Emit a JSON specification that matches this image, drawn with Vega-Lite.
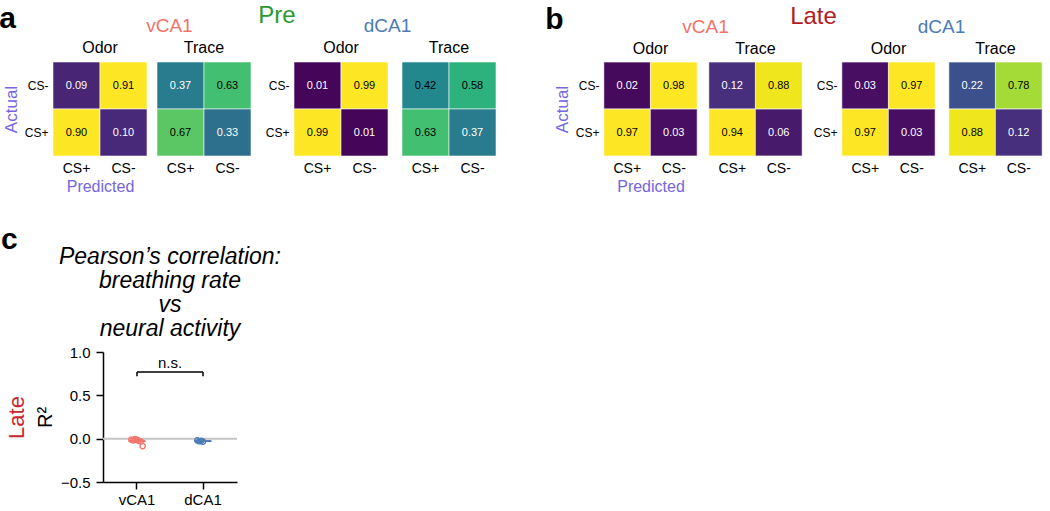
{
  "$schema": "https://vega.github.io/schema/vega-lite/v6.json",
  "background": "white",
  "padding": {"left": -1, "top": 4, "right": 0, "bottom": 0},
  "config": {
    "font": "Liberation Sans",
    "view": {"stroke": null},
    "title": {"fontWeight": "normal", "color": "black", "baseline": "alphabetic"},
    "axis": {"grid": false, "labelColor": "black", "titleColor": "black", "titleFontWeight": "normal"}
  },
  "datasets": {
    "heat": [
      {"phase": "Pre", "region": "vCA1", "epoch": "Odor", "actual": "CS-", "predicted": "CS+", "value": 0.09},
      {"phase": "Pre", "region": "vCA1", "epoch": "Odor", "actual": "CS-", "predicted": "CS-", "value": 0.91},
      {"phase": "Pre", "region": "vCA1", "epoch": "Odor", "actual": "CS+", "predicted": "CS+", "value": 0.90},
      {"phase": "Pre", "region": "vCA1", "epoch": "Odor", "actual": "CS+", "predicted": "CS-", "value": 0.10},
      {"phase": "Pre", "region": "vCA1", "epoch": "Trace", "actual": "CS-", "predicted": "CS+", "value": 0.37},
      {"phase": "Pre", "region": "vCA1", "epoch": "Trace", "actual": "CS-", "predicted": "CS-", "value": 0.63},
      {"phase": "Pre", "region": "vCA1", "epoch": "Trace", "actual": "CS+", "predicted": "CS+", "value": 0.67},
      {"phase": "Pre", "region": "vCA1", "epoch": "Trace", "actual": "CS+", "predicted": "CS-", "value": 0.33},
      {"phase": "Pre", "region": "dCA1", "epoch": "Odor", "actual": "CS-", "predicted": "CS+", "value": 0.01},
      {"phase": "Pre", "region": "dCA1", "epoch": "Odor", "actual": "CS-", "predicted": "CS-", "value": 0.99},
      {"phase": "Pre", "region": "dCA1", "epoch": "Odor", "actual": "CS+", "predicted": "CS+", "value": 0.99},
      {"phase": "Pre", "region": "dCA1", "epoch": "Odor", "actual": "CS+", "predicted": "CS-", "value": 0.01},
      {"phase": "Pre", "region": "dCA1", "epoch": "Trace", "actual": "CS-", "predicted": "CS+", "value": 0.42},
      {"phase": "Pre", "region": "dCA1", "epoch": "Trace", "actual": "CS-", "predicted": "CS-", "value": 0.58},
      {"phase": "Pre", "region": "dCA1", "epoch": "Trace", "actual": "CS+", "predicted": "CS+", "value": 0.63},
      {"phase": "Pre", "region": "dCA1", "epoch": "Trace", "actual": "CS+", "predicted": "CS-", "value": 0.37},
      {"phase": "Late", "region": "vCA1", "epoch": "Odor", "actual": "CS-", "predicted": "CS+", "value": 0.02},
      {"phase": "Late", "region": "vCA1", "epoch": "Odor", "actual": "CS-", "predicted": "CS-", "value": 0.98},
      {"phase": "Late", "region": "vCA1", "epoch": "Odor", "actual": "CS+", "predicted": "CS+", "value": 0.97},
      {"phase": "Late", "region": "vCA1", "epoch": "Odor", "actual": "CS+", "predicted": "CS-", "value": 0.03},
      {"phase": "Late", "region": "vCA1", "epoch": "Trace", "actual": "CS-", "predicted": "CS+", "value": 0.12},
      {"phase": "Late", "region": "vCA1", "epoch": "Trace", "actual": "CS-", "predicted": "CS-", "value": 0.88},
      {"phase": "Late", "region": "vCA1", "epoch": "Trace", "actual": "CS+", "predicted": "CS+", "value": 0.94},
      {"phase": "Late", "region": "vCA1", "epoch": "Trace", "actual": "CS+", "predicted": "CS-", "value": 0.06},
      {"phase": "Late", "region": "dCA1", "epoch": "Odor", "actual": "CS-", "predicted": "CS+", "value": 0.03},
      {"phase": "Late", "region": "dCA1", "epoch": "Odor", "actual": "CS-", "predicted": "CS-", "value": 0.97},
      {"phase": "Late", "region": "dCA1", "epoch": "Odor", "actual": "CS+", "predicted": "CS+", "value": 0.97},
      {"phase": "Late", "region": "dCA1", "epoch": "Odor", "actual": "CS+", "predicted": "CS-", "value": 0.03},
      {"phase": "Late", "region": "dCA1", "epoch": "Trace", "actual": "CS-", "predicted": "CS+", "value": 0.22},
      {"phase": "Late", "region": "dCA1", "epoch": "Trace", "actual": "CS-", "predicted": "CS-", "value": 0.78},
      {"phase": "Late", "region": "dCA1", "epoch": "Trace", "actual": "CS+", "predicted": "CS+", "value": 0.88},
      {"phase": "Late", "region": "dCA1", "epoch": "Trace", "actual": "CS+", "predicted": "CS-", "value": 0.12}
    ],
    "corr": [
      {"region": "vCA1", "mouse": "m1", "r2": -0.01},
      {"region": "vCA1", "mouse": "m2", "r2": -0.02},
      {"region": "vCA1", "mouse": "m3", "r2": -0.005},
      {"region": "vCA1", "mouse": "m4", "r2": -0.015},
      {"region": "vCA1", "mouse": "m5", "r2": -0.025},
      {"region": "vCA1", "mouse": "m6", "r2": -0.03},
      {"region": "vCA1", "mouse": "m7", "r2": -0.085},
      {"region": "dCA1", "mouse": "m1", "r2": -0.02},
      {"region": "dCA1", "mouse": "m2", "r2": -0.03},
      {"region": "dCA1", "mouse": "m3", "r2": -0.025},
      {"region": "dCA1", "mouse": "m4", "r2": -0.035}
    ]
  },
  "spacing": 31,
  "vconcat": [
    {
      "spacing": 47,
      "hconcat": [
        {
          "title": {"text": "a", "anchor": "start", "fontSize": 30, "fontWeight": "bold", "offset": -30, "dx": -3},
          "hconcat": [
            {
              "title": {"text": "Pre", "anchor": "middle", "fontSize": 24, "color": "#2A9A33", "offset": -11, "dx": 27},
              "spacing": 12,
              "hconcat": [
                {
                  "title": {"text": "vCA1", "anchor": "middle", "fontSize": 19, "color": "#F4736B", "offset": 4, "dx": 42},
                  "spacing": 6,
                  "hconcat": [
                    {
                      "width": 94, "height": 94,
                      "title": {"text": "Odor", "fontSize": 16, "offset": 4, "anchor": "middle"},
                      "data": {"name": "heat"},
                      "transform": [{"filter": "datum.phase === 'Pre' && datum.region === 'vCA1' && datum.epoch === 'Odor'"}],
                      "encoding": {
                        "x": {"field": "predicted", "type": "nominal", "sort": ["CS+", "CS-"], "title": "Predicted", "scale": {"type": "band", "paddingInner": 0, "paddingOuter": 0}, "axis": {"labelAngle": 0, "labelFontSize": 14, "labelPadding": 5, "domain": false, "ticks": false, "titleFontSize": 16, "titleColor": "#7565E0", "titlePadding": 3}},
                        "y": {"field": "actual", "type": "nominal", "sort": ["CS-", "CS+"], "title": "Actual", "scale": {"type": "band", "paddingInner": 0, "paddingOuter": 0}, "axis": {"labelFontSize": 12, "labelPadding": 5, "domain": false, "ticks": false, "titleFontSize": 17, "titleColor": "#7565E0", "titlePadding": 4}}
                      },
                      "layer": [
                        {"mark": {"type": "square", "size": 2209, "opacity": 1, "stroke": "#ffffff", "strokeWidth": 0.8, "strokeOpacity": 0.7}, "encoding": {"color": {"field": "value", "type": "quantitative", "scale": {"scheme": "viridis", "domain": [0, 0.9], "clamp": true}, "legend": null}}},
                        {"mark": {"type": "text", "fontSize": 11}, "encoding": {"text": {"field": "value", "type": "quantitative", "format": ".2f"}, "color": {"condition": {"test": "datum.value < 0.4", "value": "white"}, "value": "black"}}}
                      ]
                    },
                    {
                      "width": 94, "height": 94,
                      "title": {"text": "Trace", "fontSize": 16, "offset": 4, "anchor": "middle"},
                      "data": {"name": "heat"},
                      "transform": [{"filter": "datum.phase === 'Pre' && datum.region === 'vCA1' && datum.epoch === 'Trace'"}],
                      "encoding": {
                        "x": {"field": "predicted", "type": "nominal", "sort": ["CS+", "CS-"], "title": null, "scale": {"type": "band", "paddingInner": 0, "paddingOuter": 0}, "axis": {"labelAngle": 0, "labelFontSize": 14, "labelPadding": 5, "domain": false, "ticks": false}},
                        "y": {"field": "actual", "type": "nominal", "sort": ["CS-", "CS+"], "scale": {"type": "band", "paddingInner": 0, "paddingOuter": 0}, "axis": null}
                      },
                      "layer": [
                        {"mark": {"type": "square", "size": 2209, "opacity": 1, "stroke": "#ffffff", "strokeWidth": 0.8, "strokeOpacity": 0.7}, "encoding": {"color": {"field": "value", "type": "quantitative", "scale": {"scheme": "viridis", "domain": [0, 0.9], "clamp": true}, "legend": null}}},
                        {"mark": {"type": "text", "fontSize": 11}, "encoding": {"text": {"field": "value", "type": "quantitative", "format": ".2f"}, "color": {"condition": {"test": "datum.value < 0.4", "value": "white"}, "value": "black"}}}
                      ]
                    }
                  ]
                },
                {
                  "title": {"text": "dCA1", "anchor": "middle", "fontSize": 19, "color": "#4C7BB5", "offset": 4, "dx": 6},
                  "spacing": 10,
                  "hconcat": [
                    {
                      "width": 94, "height": 94,
                      "title": {"text": "Odor", "fontSize": 16, "offset": 4, "anchor": "middle"},
                      "data": {"name": "heat"},
                      "transform": [{"filter": "datum.phase === 'Pre' && datum.region === 'dCA1' && datum.epoch === 'Odor'"}],
                      "encoding": {
                        "x": {"field": "predicted", "type": "nominal", "sort": ["CS+", "CS-"], "title": null, "scale": {"type": "band", "paddingInner": 0, "paddingOuter": 0}, "axis": {"labelAngle": 0, "labelFontSize": 14, "labelPadding": 5, "domain": false, "ticks": false}},
                        "y": {"field": "actual", "type": "nominal", "sort": ["CS-", "CS+"], "title": null, "scale": {"type": "band", "paddingInner": 0, "paddingOuter": 0}, "axis": {"labelFontSize": 12, "labelPadding": 5, "domain": false, "ticks": false}}
                      },
                      "layer": [
                        {"mark": {"type": "square", "size": 2209, "opacity": 1, "stroke": "#ffffff", "strokeWidth": 0.8, "strokeOpacity": 0.7}, "encoding": {"color": {"field": "value", "type": "quantitative", "scale": {"scheme": "viridis", "domain": [0, 0.9], "clamp": true}, "legend": null}}},
                        {"mark": {"type": "text", "fontSize": 11}, "encoding": {"text": {"field": "value", "type": "quantitative", "format": ".2f"}, "color": {"condition": {"test": "datum.value < 0.4", "value": "white"}, "value": "black"}}}
                      ]
                    },
                    {
                      "width": 94, "height": 94,
                      "title": {"text": "Trace", "fontSize": 16, "offset": 4, "anchor": "middle"},
                      "data": {"name": "heat"},
                      "transform": [{"filter": "datum.phase === 'Pre' && datum.region === 'dCA1' && datum.epoch === 'Trace'"}],
                      "encoding": {
                        "x": {"field": "predicted", "type": "nominal", "sort": ["CS+", "CS-"], "title": null, "scale": {"type": "band", "paddingInner": 0, "paddingOuter": 0}, "axis": {"labelAngle": 0, "labelFontSize": 14, "labelPadding": 5, "domain": false, "ticks": false}},
                        "y": {"field": "actual", "type": "nominal", "sort": ["CS-", "CS+"], "scale": {"type": "band", "paddingInner": 0, "paddingOuter": 0}, "axis": null}
                      },
                      "layer": [
                        {"mark": {"type": "square", "size": 2209, "opacity": 1, "stroke": "#ffffff", "strokeWidth": 0.8, "strokeOpacity": 0.7}, "encoding": {"color": {"field": "value", "type": "quantitative", "scale": {"scheme": "viridis", "domain": [0, 0.9], "clamp": true}, "legend": null}}},
                        {"mark": {"type": "text", "fontSize": 11}, "encoding": {"text": {"field": "value", "type": "quantitative", "format": ".2f"}, "color": {"condition": {"test": "datum.value < 0.4", "value": "white"}, "value": "black"}}}
                      ]
                    }
                  ]
                }
              ]
            }
          ]
        },
        {
          "title": {"text": "b", "anchor": "start", "fontSize": 30, "fontWeight": "bold", "offset": -30, "dx": -8},
          "hconcat": [
            {
              "title": {"text": "Late", "anchor": "middle", "fontSize": 24, "color": "#B31B25", "offset": -11, "dx": 15},
              "spacing": 9,
              "hconcat": [
                {
                  "title": {"text": "vCA1", "anchor": "middle", "fontSize": 19, "color": "#F4736B", "offset": 4, "dx": 27},
                  "spacing": 8,
                  "hconcat": [
                    {
                      "width": 93, "height": 94,
                      "title": {"text": "Odor", "fontSize": 16, "offset": 4, "anchor": "middle"},
                      "data": {"name": "heat"},
                      "transform": [{"filter": "datum.phase === 'Late' && datum.region === 'vCA1' && datum.epoch === 'Odor'"}],
                      "encoding": {
                        "x": {"field": "predicted", "type": "nominal", "sort": ["CS+", "CS-"], "title": "Predicted", "scale": {"type": "band", "paddingInner": 0, "paddingOuter": 0}, "axis": {"labelAngle": 0, "labelFontSize": 14, "labelPadding": 5, "domain": false, "ticks": false, "titleFontSize": 16, "titleColor": "#7565E0", "titlePadding": 3}},
                        "y": {"field": "actual", "type": "nominal", "sort": ["CS-", "CS+"], "title": "Actual", "scale": {"type": "band", "paddingInner": 0, "paddingOuter": 0}, "axis": {"labelFontSize": 12, "labelPadding": 5, "domain": false, "ticks": false, "titleFontSize": 17, "titleColor": "#7565E0", "titlePadding": 4}}
                      },
                      "layer": [
                        {"mark": {"type": "square", "size": 2186, "opacity": 1, "stroke": "#ffffff", "strokeWidth": 0.8, "strokeOpacity": 0.7}, "encoding": {"color": {"field": "value", "type": "quantitative", "scale": {"scheme": "viridis", "domain": [0, 0.9], "clamp": true}, "legend": null}}},
                        {"mark": {"type": "text", "fontSize": 11}, "encoding": {"text": {"field": "value", "type": "quantitative", "format": ".2f"}, "color": {"condition": {"test": "datum.value < 0.4", "value": "white"}, "value": "black"}}}
                      ]
                    },
                    {
                      "width": 93, "height": 94,
                      "title": {"text": "Trace", "fontSize": 16, "offset": 4, "anchor": "middle"},
                      "data": {"name": "heat"},
                      "transform": [{"filter": "datum.phase === 'Late' && datum.region === 'vCA1' && datum.epoch === 'Trace'"}],
                      "encoding": {
                        "x": {"field": "predicted", "type": "nominal", "sort": ["CS+", "CS-"], "title": null, "scale": {"type": "band", "paddingInner": 0, "paddingOuter": 0}, "axis": {"labelAngle": 0, "labelFontSize": 14, "labelPadding": 5, "domain": false, "ticks": false}},
                        "y": {"field": "actual", "type": "nominal", "sort": ["CS-", "CS+"], "scale": {"type": "band", "paddingInner": 0, "paddingOuter": 0}, "axis": null}
                      },
                      "layer": [
                        {"mark": {"type": "square", "size": 2186, "opacity": 1, "stroke": "#ffffff", "strokeWidth": 0.8, "strokeOpacity": 0.7}, "encoding": {"color": {"field": "value", "type": "quantitative", "scale": {"scheme": "viridis", "domain": [0, 0.9], "clamp": true}, "legend": null}}},
                        {"mark": {"type": "text", "fontSize": 11}, "encoding": {"text": {"field": "value", "type": "quantitative", "format": ".2f"}, "color": {"condition": {"test": "datum.value < 0.4", "value": "white"}, "value": "black"}}}
                      ]
                    }
                  ]
                },
                {
                  "title": {"text": "dCA1", "anchor": "middle", "fontSize": 19, "color": "#4C7BB5", "offset": 4, "dx": 13},
                  "spacing": 10,
                  "hconcat": [
                    {
                      "width": 93, "height": 94,
                      "title": {"text": "Odor", "fontSize": 16, "offset": 4, "anchor": "middle"},
                      "data": {"name": "heat"},
                      "transform": [{"filter": "datum.phase === 'Late' && datum.region === 'dCA1' && datum.epoch === 'Odor'"}],
                      "encoding": {
                        "x": {"field": "predicted", "type": "nominal", "sort": ["CS+", "CS-"], "title": null, "scale": {"type": "band", "paddingInner": 0, "paddingOuter": 0}, "axis": {"labelAngle": 0, "labelFontSize": 14, "labelPadding": 5, "domain": false, "ticks": false}},
                        "y": {"field": "actual", "type": "nominal", "sort": ["CS-", "CS+"], "title": null, "scale": {"type": "band", "paddingInner": 0, "paddingOuter": 0}, "axis": {"labelFontSize": 12, "labelPadding": 5, "domain": false, "ticks": false}}
                      },
                      "layer": [
                        {"mark": {"type": "square", "size": 2186, "opacity": 1, "stroke": "#ffffff", "strokeWidth": 0.8, "strokeOpacity": 0.7}, "encoding": {"color": {"field": "value", "type": "quantitative", "scale": {"scheme": "viridis", "domain": [0, 0.9], "clamp": true}, "legend": null}}},
                        {"mark": {"type": "text", "fontSize": 11}, "encoding": {"text": {"field": "value", "type": "quantitative", "format": ".2f"}, "color": {"condition": {"test": "datum.value < 0.4", "value": "white"}, "value": "black"}}}
                      ]
                    },
                    {
                      "width": 93, "height": 94,
                      "title": {"text": "Trace", "fontSize": 16, "offset": 4, "anchor": "middle"},
                      "data": {"name": "heat"},
                      "transform": [{"filter": "datum.phase === 'Late' && datum.region === 'dCA1' && datum.epoch === 'Trace'"}],
                      "encoding": {
                        "x": {"field": "predicted", "type": "nominal", "sort": ["CS+", "CS-"], "title": null, "scale": {"type": "band", "paddingInner": 0, "paddingOuter": 0}, "axis": {"labelAngle": 0, "labelFontSize": 14, "labelPadding": 5, "domain": false, "ticks": false}},
                        "y": {"field": "actual", "type": "nominal", "sort": ["CS-", "CS+"], "scale": {"type": "band", "paddingInner": 0, "paddingOuter": 0}, "axis": null}
                      },
                      "layer": [
                        {"mark": {"type": "square", "size": 2186, "opacity": 1, "stroke": "#ffffff", "strokeWidth": 0.8, "strokeOpacity": 0.7}, "encoding": {"color": {"field": "value", "type": "quantitative", "scale": {"scheme": "viridis", "domain": [0, 0.9], "clamp": true}, "legend": null}}},
                        {"mark": {"type": "text", "fontSize": 11}, "encoding": {"text": {"field": "value", "type": "quantitative", "format": ".2f"}, "color": {"condition": {"test": "datum.value < 0.4", "value": "white"}, "value": "black"}}}
                      ]
                    }
                  ]
                }
              ]
            }
          ]
        }
      ]
    },
    {
      "bounds": "flush",
      "spacing": 10,
      "hconcat": [
        {
          "width": 40, "height": 1,
          "data": {"values": [{"blank": 0}]},
          "mark": {"type": "point", "opacity": 0}
        },
        {
          "title": {"text": "c", "anchor": "start", "fontSize": 30, "fontWeight": "bold", "offset": -9, "dx": -4},
          "hconcat": [
            {
              "width": 134, "height": 130,
              "title": {"text": ["Pearson’s correlation:", "breathing rate", "vs", "neural activity"], "fontStyle": "italic", "fontSize": 23, "lineHeight": 24, "anchor": "middle", "frame": "group", "baseline": "bottom", "offset": -19},
              "resolve": {"scale": {"y": "independent"}},
              "layer": [
                {
                  "layer": [
                    {
                      "data": {"values": [{"level": 0}]},
                      "mark": {"type": "rule", "color": "#c6c6c6", "strokeWidth": 2},
                      "encoding": {"y": {"field": "level", "type": "quantitative", "scale": {"domain": [-0.5, 1], "nice": false, "zero": false}}}
                    },
                    {
                      "data": {"name": "corr"},
                      "mark": {"type": "point", "shape": "circle", "filled": false, "size": 28, "strokeWidth": 1.4, "opacity": 1},
                      "encoding": {
                        "x": {"field": "region", "type": "nominal", "scale": {"domain": ["vCA1", "dCA1"], "paddingInner": 0.8, "paddingOuter": 0.415}, "axis": {"title": null, "labelAngle": 0, "labelFontSize": 15, "labelPadding": 3, "tickSize": 7, "tickWidth": 1.5, "tickColor": "black", "domainColor": "black", "domainWidth": 1.5}},
                        "xOffset": {"field": "mouse", "type": "nominal"},
                        "y": {"field": "r2", "type": "quantitative", "scale": {"domain": [-0.5, 1], "nice": false, "zero": false}, "axis": {"title": "R²", "values": [-0.5, 0, 0.5, 1], "format": ".1f", "labelFontSize": 15, "labelPadding": 6, "tickSize": 7, "tickWidth": 1.5, "tickColor": "black", "domainColor": "black", "domainWidth": 1.5, "titleFontSize": 20, "titlePadding": 5}},
                        "color": {"condition": {"test": "datum.region === 'vCA1'", "value": "#F4736B"}, "value": "#4C7BB5"}
                      }
                    },
                    {
                      "data": {"name": "corr"},
                      "mark": {"type": "tick", "size": 17, "thickness": 2},
                      "encoding": {
                        "x": {"field": "region", "type": "nominal", "scale": {"domain": ["vCA1", "dCA1"]}},
                        "y": {"aggregate": "mean", "field": "r2", "type": "quantitative", "scale": {"domain": [-0.5, 1], "nice": false, "zero": false}},
                        "color": {"condition": {"test": "datum.region === 'vCA1'", "value": "#F4736B"}, "value": "#4C7BB5"}
                      }
                    },
                    {
                      "data": {"values": [{"from": "vCA1", "to": "dCA1", "level": 0.77}]},
                      "mark": {"type": "rule", "color": "black", "strokeWidth": 1.5},
                      "encoding": {
                        "x": {"field": "from", "type": "nominal", "scale": {"domain": ["vCA1", "dCA1"]}},
                        "x2": {"field": "to"},
                        "y": {"field": "level", "type": "quantitative", "scale": {"domain": [-0.5, 1], "nice": false, "zero": false}}
                      }
                    },
                    {
                      "data": {"values": [{"region": "vCA1", "top": 0.77, "bottom": 0.72}, {"region": "dCA1", "top": 0.77, "bottom": 0.72}]},
                      "mark": {"type": "rule", "color": "black", "strokeWidth": 1.5},
                      "encoding": {
                        "x": {"field": "region", "type": "nominal", "scale": {"domain": ["vCA1", "dCA1"]}},
                        "y": {"field": "top", "type": "quantitative", "scale": {"domain": [-0.5, 1], "nice": false, "zero": false}},
                        "y2": {"field": "bottom"}
                      }
                    },
                    {
                      "data": {"values": [{"label": "n.s.", "level": 0.81}]},
                      "mark": {"type": "text", "fontSize": 15, "baseline": "alphabetic"},
                      "encoding": {
                        "text": {"field": "label"},
                        "y": {"field": "level", "type": "quantitative", "scale": {"domain": [-0.5, 1], "nice": false, "zero": false}}
                      }
                    }
                  ]
                },
                {
                  "data": {"values": [{"level": 0}]},
                  "mark": {"type": "rule", "opacity": 0},
                  "encoding": {
                    "y": {"field": "level", "type": "quantitative", "scale": {"domain": [-0.5, 1], "nice": false, "zero": false}, "axis": {"orient": "left", "title": "Late", "titleColor": "#C8262E", "titleFontSize": 22, "labels": false, "ticks": false, "domain": false, "titlePadding": 75}}
                  }
                }
              ]
            }
          ]
        }
      ]
    }
  ]
}
